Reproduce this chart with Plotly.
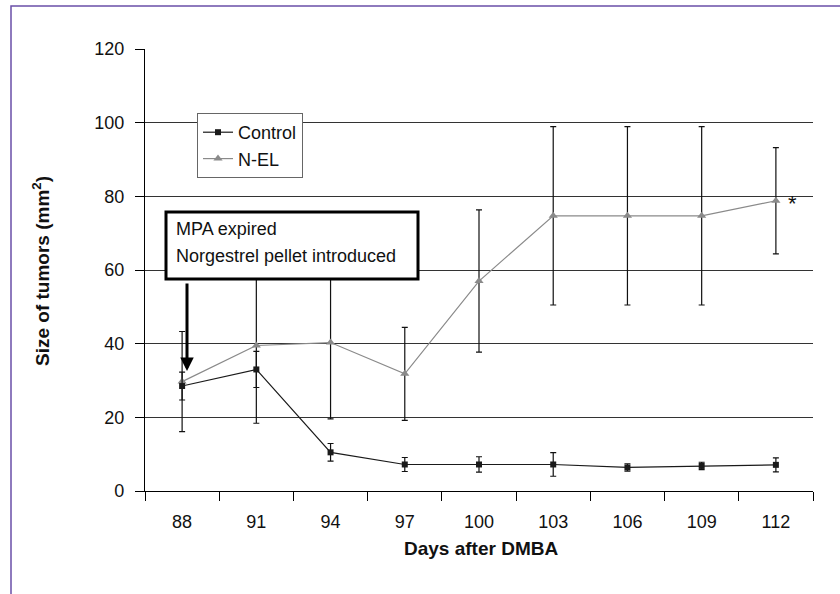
import plotly.graph_objects as go

# ---- data ----
days = ["88", "91", "94", "97", "100", "103", "106", "109", "112"]
control = [28.5, 33.0, 10.5, 7.2, 7.2, 7.2, 6.4, 6.8, 7.1]
control_err = [3.8, 4.9, 2.4, 1.9, 2.1, 3.2, 1.0, 1.0, 1.9]
nel = [29.7, 39.5, 40.3, 31.8, 57.0, 74.7, 74.7, 74.7, 78.8]
nel_err = [13.6, 21.1, 20.7, 12.6, 19.3, 24.2, 24.2, 24.2, 14.4]
y_ticks = [0, 20, 40, 60, 80, 100, 120]

FONT = "Arial, 'Liberation Sans', sans-serif"
W, H = 840, 594
L, R, T, B = 145, 27, 49, 103
PW, PH = W - L - R, H - T - B


def px(x):
    return (x - L) / PW


def py(y):
    return 1 - (y - T) / PH


fig = go.Figure()

fig.add_trace(go.Scatter(
    x=days, y=nel, name="N-EL", mode="lines+markers",
    line=dict(color="#8a8a8a", width=1.2),
    marker=dict(symbol="triangle-up", size=8, color="#8a8a8a"),
    error_y=dict(type="data", array=nel_err, visible=True,
                 color="#111111", thickness=1.2, width=3),
))
fig.add_trace(go.Scatter(
    x=days, y=control, name="Control", mode="lines+markers",
    line=dict(color="#1a1a1a", width=1.2),
    marker=dict(symbol="square", size=6, color="#1a1a1a"),
    error_y=dict(type="data", array=control_err, visible=True,
                 color="#111111", thickness=1.2, width=3),
))

shapes = [
    # outer purple frame (only top/left visible)
    dict(type="rect", xref="paper", yref="paper",
         x0=px(11), x1=px(860), y0=py(620), y1=py(6),
         line=dict(color="#6a4fa8", width=1.5), layer="below"),
    # annotation box
    dict(type="rect", xref="paper", yref="paper",
         x0=px(166), x1=px(418), y0=py(279), y1=py(212),
         line=dict(color="black", width=3), fillcolor="white", layer="above"),
]

annotations = [
    dict(text="MPA expired", xref="paper", yref="paper",
         x=px(174), y=py(229), xanchor="left", yanchor="middle",
         showarrow=False, font=dict(family=FONT, size=18, color="#111")),
    dict(text="Norgestrel pellet introduced", xref="paper", yref="paper",
         x=px(174), y=py(256), xanchor="left", yanchor="middle",
         showarrow=False, font=dict(family=FONT, size=18, color="#111")),
    # arrow
    dict(text="", xref="paper", yref="paper", x=px(187), y=py(371),
         ax=0, ay=-89, showarrow=True, arrowhead=2, arrowsize=0.9,
         arrowwidth=3, arrowcolor="black"),
    # asterisk
    dict(text="*", xref="paper", yref="paper", x=px(792), y=py(203),
         xanchor="center", yanchor="middle", showarrow=False,
         font=dict(family=FONT, size=22, color="#111")),
    # axis titles
    dict(text="Days after DMBA", xref="paper", yref="paper",
         x=px(481), y=py(548), xanchor="center", yanchor="middle",
         showarrow=False, font=dict(family=FONT, size=19, color="#111", weight="bold")),
    dict(text="Size of tumors (mm<sup>2</sup>)", xref="paper", yref="paper",
         x=px(41), y=py(271), xanchor="center", yanchor="middle", textangle=-90,
         showarrow=False, font=dict(family=FONT, size=19, color="#111", weight="bold")),
]

fig.update_layout(
    width=W, height=H,
    margin=dict(l=L, r=R, t=T, b=B, pad=0),
    paper_bgcolor="white", plot_bgcolor="white",
    font=dict(family=FONT, size=18, color="#111"),
    showlegend=True,
    legend=dict(x=px(197), y=py(113), xanchor="left", yanchor="top",
                bgcolor="white", bordercolor="#666", borderwidth=1,
                font=dict(family=FONT, size=18, color="#111"),
                traceorder="reversed", itemwidth=30),
    shapes=shapes,
    annotations=annotations,
    xaxis=dict(
        type="category", categoryorder="array", categoryarray=days,
        tickson="boundaries", ticks="outside", ticklen=9, tickcolor="black",
        showline=True, linecolor="black", linewidth=1.2,
        showgrid=False, zeroline=False, ticklabelstandoff=14,
        tickfont=dict(family=FONT, size=18, color="#111"),
        range=[-0.5, len(days) - 0.5],
    ),
    yaxis=dict(
        range=[0, 120], tickvals=y_ticks, ticks="outside", ticklen=9,
        tickcolor="black", showline=True, linecolor="black", linewidth=1.2,
        showgrid=True, gridcolor="#333333", gridwidth=1, zeroline=False,
        ticklabelstandoff=7,
        tickfont=dict(family=FONT, size=18, color="#111"),
    ),
)

fig.write_html("out.html", config={"displayModeBar": False},
               post_script="document.body.style.margin='0';")
